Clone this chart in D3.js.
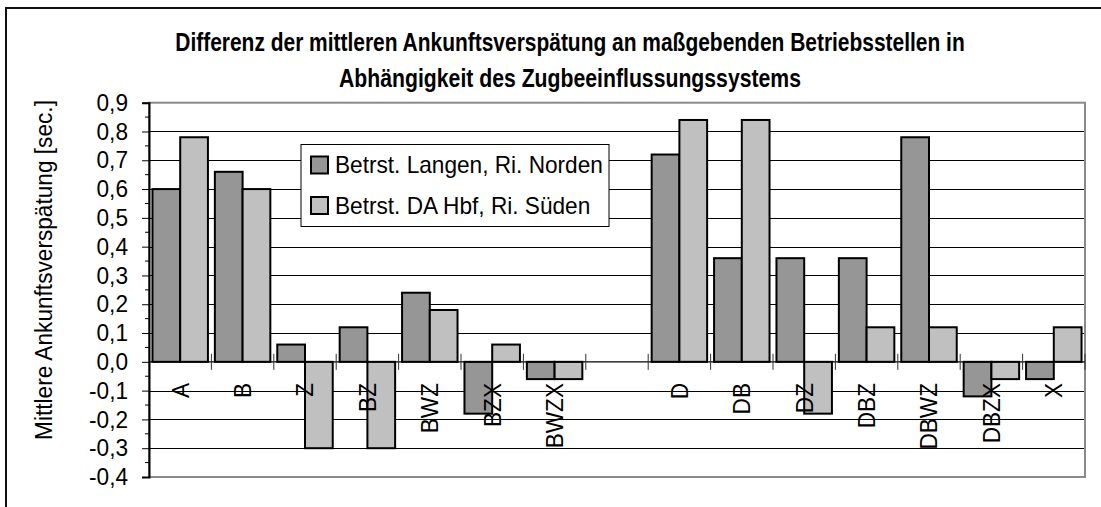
<!DOCTYPE html>
<html>
<head>
<meta charset="utf-8">
<script src="https://cdn.jsdelivr.net/npm/d3@7"></script>
<style>
  html, body { margin: 0; padding: 0; background: #fff; }
  svg { display: block; }
  text { font-family: "Liberation Sans", Arial, sans-serif; fill: #000; }
</style>
</head>
<body>
<svg id="chart" width="1101" height="507"></svg>
<script>
const categories = ["A", "B", "Z", "BZ", "BWZ", "BZX", "BWZX", "", "D", "DB", "DZ", "DBZ", "DBWZ", "DBZX", "X"];
const seriesNames = ["Betrst. Langen, Ri. Norden", "Betrst. DA Hbf, Ri. Süden"];
const langenNorden = [0.60, 0.66, 0.06, 0.12, 0.24, -0.18, -0.06, null, 0.72, 0.36, 0.36, 0.36, 0.78, -0.12, -0.06];
const daHbfSueden  = [0.78, 0.60, -0.30, -0.30, 0.18, 0.06, -0.06, null, 0.84, 0.84, -0.18, 0.12, 0.12, -0.06, 0.12];
const yTicks = [0.9, 0.8, 0.7, 0.6, 0.5, 0.4, 0.3, 0.2, 0.1, 0.0, -0.1, -0.2, -0.3, -0.4];
const titleLines = ["Differenz der mittleren Ankunftsverspätung an maßgebenden Betriebsstellen in", "Abhängigkeit des Zugbeeinflussungssystems"];
const yTitle = "Mittlere Ankunftsverspätung [sec.]";
const colors = ["#969696", "#c0c0c0"];

const svg = d3.select("#chart");
const plot = { left: 149, top: 102.7, right: 1085, bottom: 477 };

// helper: measure natural width of a string
const measurer = svg.append("text").attr("x", -1000).attr("y", -1000);
function measure(str, size, weight) {
  measurer.style("font-size", size + "px").style("font-weight", weight || "normal").text(str);
  return measurer.node().getComputedTextLength();
}
const baseSize = 24;
// condense factor so the legend label matches the reference width (~268px)
const fNarrow = 268 / measure(seriesNames[0], baseSize);

// outer frame
svg.append("rect").attr("x", 6).attr("y", 8).attr("width", 1200).attr("height", 600)
  .attr("fill", "none").attr("stroke", "#111").attr("stroke-width", 2);

const y = d3.scaleLinear().domain([-0.4, 0.9]).range([plot.bottom, plot.top]);
const x = d3.scaleBand().domain(d3.range(categories.length)).range([plot.left, plot.right]).paddingInner(0).paddingOuter(0);
const xs = d3.scaleBand().domain([0, 1]).range([0, x.bandwidth()]).paddingInner(0).paddingOuter(0.125);

// gridlines
svg.append("g").selectAll("line").data(yTicks.filter(t => t < 0.85 && t > -0.35 && Math.abs(t) > 1e-9))
  .join("line")
  .attr("x1", plot.left).attr("x2", plot.right)
  .attr("y1", d => Math.round(y(d)) + 0.5).attr("y2", d => Math.round(y(d)) + 0.5)
  .attr("stroke", "#000").attr("stroke-width", 1);

// plot border (gray)
svg.append("rect").attr("x", plot.left).attr("y", plot.top).attr("width", plot.right - plot.left).attr("height", plot.bottom - plot.top)
  .attr("fill", "none").attr("stroke", "#8a8a8a").attr("stroke-width", 2);

// bars
const series = [langenNorden, daHbfSueden];
series.forEach((vals, si) => {
  svg.append("g").selectAll("rect").data(vals.map((v, i) => ({ v, i })).filter(d => d.v !== null))
    .join("rect")
    .attr("x", d => x(d.i) + xs(si))
    .attr("width", xs.bandwidth())
    .attr("y", d => y(Math.max(0, d.v)))
    .attr("height", d => Math.abs(y(d.v) - y(0)))
    .attr("fill", colors[si]).attr("stroke", "#000").attr("stroke-width", 2);
});

// zero line
svg.append("line").attr("x1", plot.left).attr("x2", plot.right).attr("y1", y(0)).attr("y2", y(0))
  .attr("stroke", "#000").attr("stroke-width", 1.2);

// category boundary ticks (cross)
svg.append("g").selectAll("line").data(d3.range(1, categories.length + 1))
  .join("line")
  .attr("x1", i => x(0) + i * x.step()).attr("x2", i => x(0) + i * x.step())
  .attr("y1", y(0) - 8).attr("y2", y(0) + 8)
  .attr("stroke", "#333").attr("stroke-width", 1);

// y axis
const yAxis = d3.axisLeft(y).tickValues(yTicks).tickSize(7).tickPadding(4)
  .tickFormat(d => d3.format(".1f")(d).replace(".", ",").replace("−", "-"));
const gy = svg.append("g").attr("transform", `translate(${plot.left},0)`).call(yAxis);
gy.select(".domain").attr("stroke", "#000").attr("stroke-width", 2);
gy.selectAll(".tick line").attr("stroke", "#000").attr("stroke-width", 1);
gy.selectAll(".tick text").style("font-size", baseSize + "px").attr("fill", "#000")
  .attr("x", -21 / fNarrow).attr("transform", `scale(${fNarrow},1)`);
// minor ticks
const minor = d3.range(-0.35, 0.9, 0.1);
svg.append("g").selectAll("line").data(minor).join("line")
  .attr("x1", plot.left - 4).attr("x2", plot.left)
  .attr("y1", d => y(d)).attr("y2", d => y(d))
  .attr("stroke", "#000").attr("stroke-width", 1);

// x labels
svg.append("g").selectAll("text").data(categories.map((c, i) => ({ c, i })))
  .join("text")
  .attr("transform", d => `translate(${x(d.i) + x.bandwidth() / 2},383) rotate(-90) scale(${fNarrow},1)`)
  .attr("text-anchor", "end").attr("dy", "0.35em")
  .style("font-size", baseSize + "px")
  .text(d => d.c);

// y title
const fYT = 340 / measure(yTitle, baseSize);
svg.append("text")
  .attr("transform", `translate(44,270) rotate(-90) scale(${fYT},1)`)
  .attr("text-anchor", "middle").attr("dy", "0.35em")
  .style("font-size", baseSize + "px")
  .text(yTitle);

// title
const titleSize = 26.5;
const titleTargets = [790, 462];
const titleBase = [51, 87];
svg.append("g").selectAll("text").data(titleLines).join("text")
  .attr("transform", (d, i) => `translate(570,${titleBase[i]}) scale(${titleTargets[i] / measure(d, titleSize, "bold")},1)`)
  .attr("text-anchor", "middle")
  .style("font-size", titleSize + "px").style("font-weight", "bold")
  .text(d => d);

// legend
const lg = svg.append("g").attr("transform", "translate(301,144.5)");
lg.append("rect").attr("width", 308).attr("height", 82).attr("fill", "#fff").attr("stroke", "#000").attr("stroke-width", 1);
seriesNames.forEach((n, i) => {
  const row = lg.append("g").attr("transform", `translate(10,${12 + i * 40.5})`);
  row.append("rect").attr("width", 17).attr("height", 17).attr("fill", colors[i]).attr("stroke", "#000").attr("stroke-width", 2);
  row.append("text").attr("transform", `translate(24,8.5) scale(${fNarrow},1)`).attr("dy", "0.35em")
    .style("font-size", baseSize + "px").text(n);
});
measurer.remove();
</script>
</body>
</html>
